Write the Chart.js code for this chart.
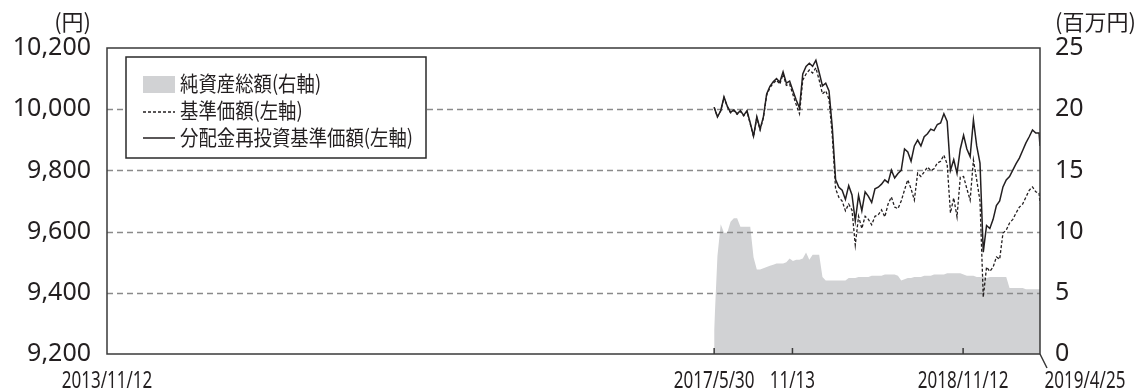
<!DOCTYPE html>
<html>
<head>
<meta charset="utf-8">
<script src="https://cdn.jsdelivr.net/npm/chart.js@4.4.1/dist/chart.umd.min.js"></script>
<style>
  html, body { margin: 0; padding: 0; background: #fff; }
  canvas { display: block; }
</style>
</head>
<body>
<canvas id="chart" width="1145" height="391"></canvas>
<script>
// Weekly dates of the fund (2017/5/30 launch)
const dates = [
  '2017/5/30','2017/6/6','2017/6/13','2017/6/20','2017/6/27','2017/7/4','2017/7/11','2017/7/18','2017/7/25','2017/8/1',
  '2017/8/8','2017/8/15','2017/8/22','2017/8/29','2017/9/5','2017/9/12','2017/9/19','2017/9/26','2017/10/3','2017/10/10',
  '2017/10/17','2017/10/24','2017/10/31','2017/11/7','2017/11/14','2017/11/21','2017/11/28','2017/12/5','2017/12/12','2017/12/19',
  '2017/12/26','2018/1/2','2018/1/9','2018/1/16','2018/1/23','2018/1/30','2018/2/6','2018/2/13','2018/2/20','2018/2/27',
  '2018/3/6','2018/3/13','2018/3/20','2018/3/27','2018/4/3','2018/4/10','2018/4/17','2018/4/24','2018/5/1','2018/5/8',
  '2018/5/15','2018/5/22','2018/5/29','2018/6/5','2018/6/12','2018/6/19','2018/6/26','2018/7/3','2018/7/10','2018/7/17',
  '2018/7/24','2018/7/31','2018/8/7','2018/8/14','2018/8/21','2018/8/28','2018/9/4','2018/9/11','2018/9/18','2018/9/25',
  '2018/10/2','2018/10/9','2018/10/16','2018/10/23','2018/10/30','2018/11/6','2018/11/13','2018/11/20','2018/11/27','2018/12/4',
  '2018/12/11','2018/12/18','2018/12/25','2019/1/1','2019/1/8','2019/1/15','2019/1/22','2019/1/29','2019/2/5','2019/2/12',
  '2019/2/19','2019/2/26','2019/3/5','2019/3/12','2019/3/19','2019/3/26','2019/4/2','2019/4/9','2019/4/16','2019/4/23',
  '2019/4/25'
];

// 分配金再投資基準価額 (円, left axis)
const navReinvested = [
  10006, 9975, 9995, 10040, 10010, 9990, 9998, 9985, 9995, 9980,
  9995, 9955, 9912, 9975, 9935, 9975, 10050, 10075, 10090, 10100,
  10088, 10122, 10085, 10092, 10060, 10030, 10004, 10115, 10140, 10150,
  10140, 10160, 10120, 10076, 10085, 10060, 9940, 9770, 9745, 9735,
  9705, 9750, 9720, 9635, 9718, 9668, 9730, 9715, 9695, 9740,
  9745, 9755, 9769, 9760, 9801, 9775, 9790, 9800, 9870, 9860,
  9830, 9880, 9899, 9880, 9910, 9920, 9935, 9930, 9950, 9955,
  9985, 9960, 9800, 9835, 9790, 9870, 9915, 9870, 9845, 9965,
  9880, 9824, 9533, 9620, 9610, 9640, 9685, 9700, 9746, 9769,
  9780, 9801, 9822, 9840, 9865, 9890, 9910, 9932, 9922, 9922,
  9880
];

// 基準価額 (円, left axis)
const nav = [
  10006, 9975, 9995, 10038, 10008, 9988, 9996, 9983, 9993, 9978,
  9993, 9952, 9910, 9972, 9932, 9972, 10046, 10070, 10085, 10095,
  10082, 10115, 10078, 10082, 10048, 10015, 9985, 10095, 10115, 10128,
  10118, 10135, 10095, 10050, 10060, 10032, 9912, 9740, 9712, 9700,
  9668, 9690, 9670, 9556, 9650, 9610, 9650, 9640, 9622, 9650,
  9655, 9671, 9648, 9690, 9713, 9680, 9675, 9700, 9736, 9769,
  9740, 9703, 9791, 9780, 9795, 9811, 9800, 9805, 9824, 9830,
  9850, 9820, 9661, 9710, 9648, 9778, 9780, 9740, 9703, 9834,
  9769, 9700, 9386, 9484, 9470, 9484, 9517, 9510, 9595, 9605,
  9628, 9640, 9661, 9680, 9690, 9713, 9735, 9746, 9730, 9726,
  9693
];

// 純資産総額 (百万円, right axis)
const netAssets = [
  2.0, 8.0, 10.6, 9.9, 9.9, 10.8, 11.1, 11.1, 10.4, 10.4,
  10.4, 10.4, 7.9, 6.9, 6.9, 7.0, 7.1, 7.2, 7.3, 7.4,
  7.4, 7.4, 7.5, 7.8, 7.6, 7.7, 7.7, 7.8, 8.3, 7.7,
  8.1, 8.1, 8.1, 6.3, 6.0, 6.0, 6.0, 6.0, 6.0, 6.0,
  6.0, 6.2, 6.2, 6.2, 6.3, 6.3, 6.3, 6.3, 6.4, 6.4,
  6.4, 6.4, 6.5, 6.5, 6.5, 6.5, 6.4, 6.0, 6.1, 6.2,
  6.2, 6.3, 6.3, 6.3, 6.4, 6.4, 6.4, 6.5, 6.5, 6.5,
  6.5, 6.6, 6.6, 6.6, 6.6, 6.6, 6.5, 6.4, 6.4, 6.4,
  6.3, 6.3, 6.3, 6.2, 6.3, 6.3, 6.3, 6.3, 6.3, 6.3,
  5.4, 5.4, 5.4, 5.4, 5.4, 5.3, 5.3, 5.3, 5.3, 5.3,
  5.3
];

// Axis ticks
const xTickDates = ['2013/11/12', '2017/5/30', '2017/11/13', '2018/11/12', '2019/4/25'];
const xTickLabels = ['2013/11/12', '2017/5/30', '11/13', '2018/11/12', '2019/4/25'];
const yLeftTicks = [9200, 9400, 9600, 9800, 10000, 10200];
const yRightTicks = [0, 5, 10, 15, 20, 25];

const legendLabels = ['純資産総額(右軸)', '基準価額(左軸)', '分配金再投資基準価額(左軸)'];

const INK = '#231f20';
const AREA = '#d1d2d4';
const CJK = "'Noto Sans CJK JP', 'Noto Sans', sans-serif";
const SANS = "'Noto Sans', sans-serif";

// Days since the first x tick
function toDay(s) {
  const [y, m, d] = s.split('/').map(Number);
  const [y0, m0, d0] = xTickDates[0].split('/').map(Number);
  return (Date.UTC(y, m - 1, d) - Date.UTC(y0, m0 - 1, d0)) / 86400000;
}

const points = arr => dates.map((d, i) => ({ x: toDay(d), y: arr[i] }));

// text squeezed horizontally (the original uses a condensed face)
function narrowText(ctx, text, x, y, sx) {
  ctx.save();
  ctx.translate(x, y);
  ctx.scale(sx, 1);
  ctx.fillText(text, 0, 0);
  ctx.restore();
}

// Draws grid (over the area), frame, x labels, titles and legend
const decorPlugin = {
  id: 'decor',
  afterDatasetDraw(chart, args) {
    if (args.index !== 2) return;
    const { ctx, chartArea: a, scales: { y } } = chart;
    ctx.save();
    ctx.strokeStyle = '#8a8a8a';
    ctx.lineWidth = 1.3;
    ctx.setLineDash([6, 4]);
    yLeftTicks.slice(1, -1).forEach(v => {
      const py = Math.round(y.getPixelForValue(v)) + 0.5;
      ctx.beginPath();
      ctx.moveTo(a.left, py);
      ctx.lineTo(a.right, py);
      ctx.stroke();
    });
    ctx.restore();
  },
  afterDatasetsDraw(chart) {
    const { ctx, chartArea: a, scales: { x } } = chart;
    ctx.save();

    // plot frame
    ctx.strokeStyle = '#3a3a3a';
    ctx.lineWidth = 1.5;
    ctx.strokeRect(a.left, a.top, a.right - a.left, a.bottom - a.top);

    // inner tick marks
    ctx.beginPath();
    xTickDates.slice(1, -1).forEach(d => {
      const px = x.getPixelForValue(toDay(d));
      ctx.moveTo(px, a.bottom);
      ctx.lineTo(px, a.bottom - 6);
    });
    // leader for the last date
    ctx.moveTo(a.right, a.bottom);
    ctx.lineTo(a.right + 7, a.bottom + 14);
    ctx.stroke();

    // x labels
    ctx.fillStyle = INK;
    ctx.font = '24px ' + SANS;
    ctx.textAlign = 'center';
    ctx.textBaseline = 'middle';
    xTickDates.forEach((d, i) => {
      let px = x.getPixelForValue(toDay(d));
      if (i === xTickDates.length - 1) px += 45;
      narrowText(ctx, xTickLabels[i], px, a.bottom + 27, 0.71);
    });

    // axis titles
    ctx.font = '22px ' + CJK;
    ctx.textAlign = 'right';
    ctx.fillText('(円)', 91, 22);
    ctx.textAlign = 'left';
    ctx.fillText('(百万円)', 1055, 22);

    // legend
    const lx = 126, ly = 57, lw = 300, lh = 101;
    ctx.fillStyle = '#fff';
    ctx.fillRect(lx, ly, lw, lh);
    ctx.strokeStyle = '#2a2a2a';
    ctx.lineWidth = 1.5;
    ctx.strokeRect(lx, ly, lw, lh);

    const rows = [84, 111, 138];
    ctx.fillStyle = AREA;
    ctx.fillRect(143, rows[0] - 8, 32, 17);
    ctx.strokeStyle = INK;
    ctx.lineWidth = 1.3;
    ctx.setLineDash([3, 2]);
    ctx.beginPath();
    ctx.moveTo(143, rows[1] + 1);
    ctx.lineTo(175, rows[1] + 1);
    ctx.stroke();
    ctx.setLineDash([]);
    ctx.lineWidth = 1.5;
    ctx.beginPath();
    ctx.moveTo(143, rows[2]);
    ctx.lineTo(175, rows[2]);
    ctx.stroke();

    ctx.fillStyle = INK;
    ctx.font = '21px ' + CJK;
    ctx.textAlign = 'left';
    const sx = Math.min(1, 233 / ctx.measureText(legendLabels[2]).width);
    legendLabels.forEach((t, i) => narrowText(ctx, t, 180, rows[i] - 1, sx));

    ctx.restore();
  }
};

const ctx = document.getElementById('chart').getContext('2d');
new Chart(ctx, {
  type: 'line',
  data: {
    datasets: [
      {
        label: legendLabels[2],
        data: points(navReinvested),
        yAxisID: 'y',
        borderColor: INK,
        borderWidth: 1.5,
        pointRadius: 0,
        order: 1
      },
      {
        label: legendLabels[1],
        data: points(nav),
        yAxisID: 'y',
        borderColor: INK,
        borderWidth: 1.3,
        borderDash: [3, 2],
        pointRadius: 0,
        order: 2
      },
      {
        label: legendLabels[0],
        data: points(netAssets),
        yAxisID: 'y2',
        borderWidth: 0,
        borderColor: AREA,
        backgroundColor: AREA,
        fill: 'origin',
        pointRadius: 0,
        order: 3
      }
    ]
  },
  options: {
    responsive: false,
    animation: false,
    devicePixelRatio: 1,
    layout: { padding: { top: 48, left: 0, right: 0, bottom: 0 } },
    plugins: {
      legend: { display: false },
      tooltip: { enabled: false }
    },
    scales: {
      x: {
        type: 'linear',
        min: toDay(xTickDates[0]),
        max: toDay(xTickDates[xTickDates.length - 1]),
        ticks: { display: false },
        grid: { display: false, drawTicks: false },
        border: { display: false },
        afterFit: s => { s.height = 37; }
      },
      y: {
        position: 'left',
        min: yLeftTicks[0],
        max: yLeftTicks[yLeftTicks.length - 1],
        afterBuildTicks: s => { s.ticks = yLeftTicks.map(v => ({ value: v })); },
        ticks: {
          color: INK,
          padding: 16,
          font: { family: SANS, size: 25 },
          callback: v => v.toLocaleString('en-US')
        },
        grid: { display: false, drawTicks: false },
        border: { display: false },
        afterFit: s => { s.width = 107; }
      },
      y2: {
        position: 'right',
        min: yRightTicks[0],
        max: yRightTicks[yRightTicks.length - 1],
        afterBuildTicks: s => { s.ticks = yRightTicks.map(v => ({ value: v })); },
        ticks: {
          color: INK,
          padding: 15,
          font: { family: SANS, size: 25 }
        },
        grid: { display: false, drawTicks: false },
        border: { display: false },
        afterFit: s => { s.width = 105; }
      }
    }
  },
  plugins: [decorPlugin]
});
</script>
</body>
</html>
